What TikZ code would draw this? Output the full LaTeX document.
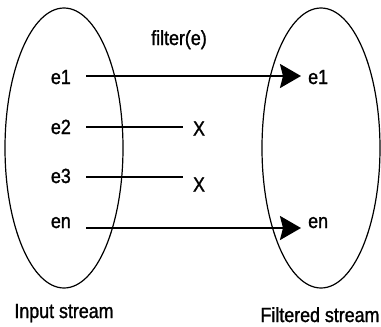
\documentclass[tikz,border=0pt]{standalone}
\usepackage{fontspec}
\setmainfont[FakeStretch=0.87,FakeBold=1.3]{Liberation Sans}
\usetikzlibrary{arrows.meta}
\tikzset{
  lbl/.style={inner sep=0pt, font=\fontsize{20.5}{24}\selectfont},
  conn/.style={line width=2.2pt},
  arr/.style={conn, -{Stealth[length=21pt,width=24pt,inset=3pt]}},
  oval/.style={line width=1.2pt}
}
\begin{document}
\begin{tikzpicture}[x=1pt,y=-1pt]
\useasboundingbox (0,0) rectangle (381,327);
\draw[oval] (64,148) ellipse [x radius=59, y radius=140];
\draw[oval] (321,148) ellipse [x radius=59, y radius=140];
\node[lbl, anchor=base] (filt) at (179,45) {filter(e)};
\node[lbl, anchor=base east] (e1) at (71,84) {e1};
\node[lbl, anchor=base east] (e2) at (71,134) {e2};
\node[lbl, anchor=base east] (e3) at (71,183) {e3};
\node[lbl, anchor=base east] (en) at (71,228) {en};
\node[lbl, anchor=base west] (f1) at (308,84) {e1};
\node[lbl, anchor=base west] (fn) at (308,228) {en};
\node[lbl, anchor=base] (x2) at (199,135.5) {X};
\node[lbl, anchor=base] (x3) at (199,191.5) {X};
\coordinate (s1) at (86,76);
\coordinate (t1) at (301,76);
\coordinate (s2) at (86,127);
\coordinate (t2) at (183,127);
\coordinate (s3) at (86,177);
\coordinate (t3) at (183,177);
\coordinate (sn) at (86,228);
\coordinate (tn) at (301,228);
\draw[arr] (s1) -- (t1);
\draw[conn] (s2) -- (t2);
\draw[conn] (s3) -- (t3);
\draw[arr] (sn) -- (tn);
\node[lbl, anchor=base] (inp) at (64,318) {Input stream};
\node[lbl, anchor=base] (out) at (320,322) {Filtered stream};
\end{tikzpicture}
\end{document}
